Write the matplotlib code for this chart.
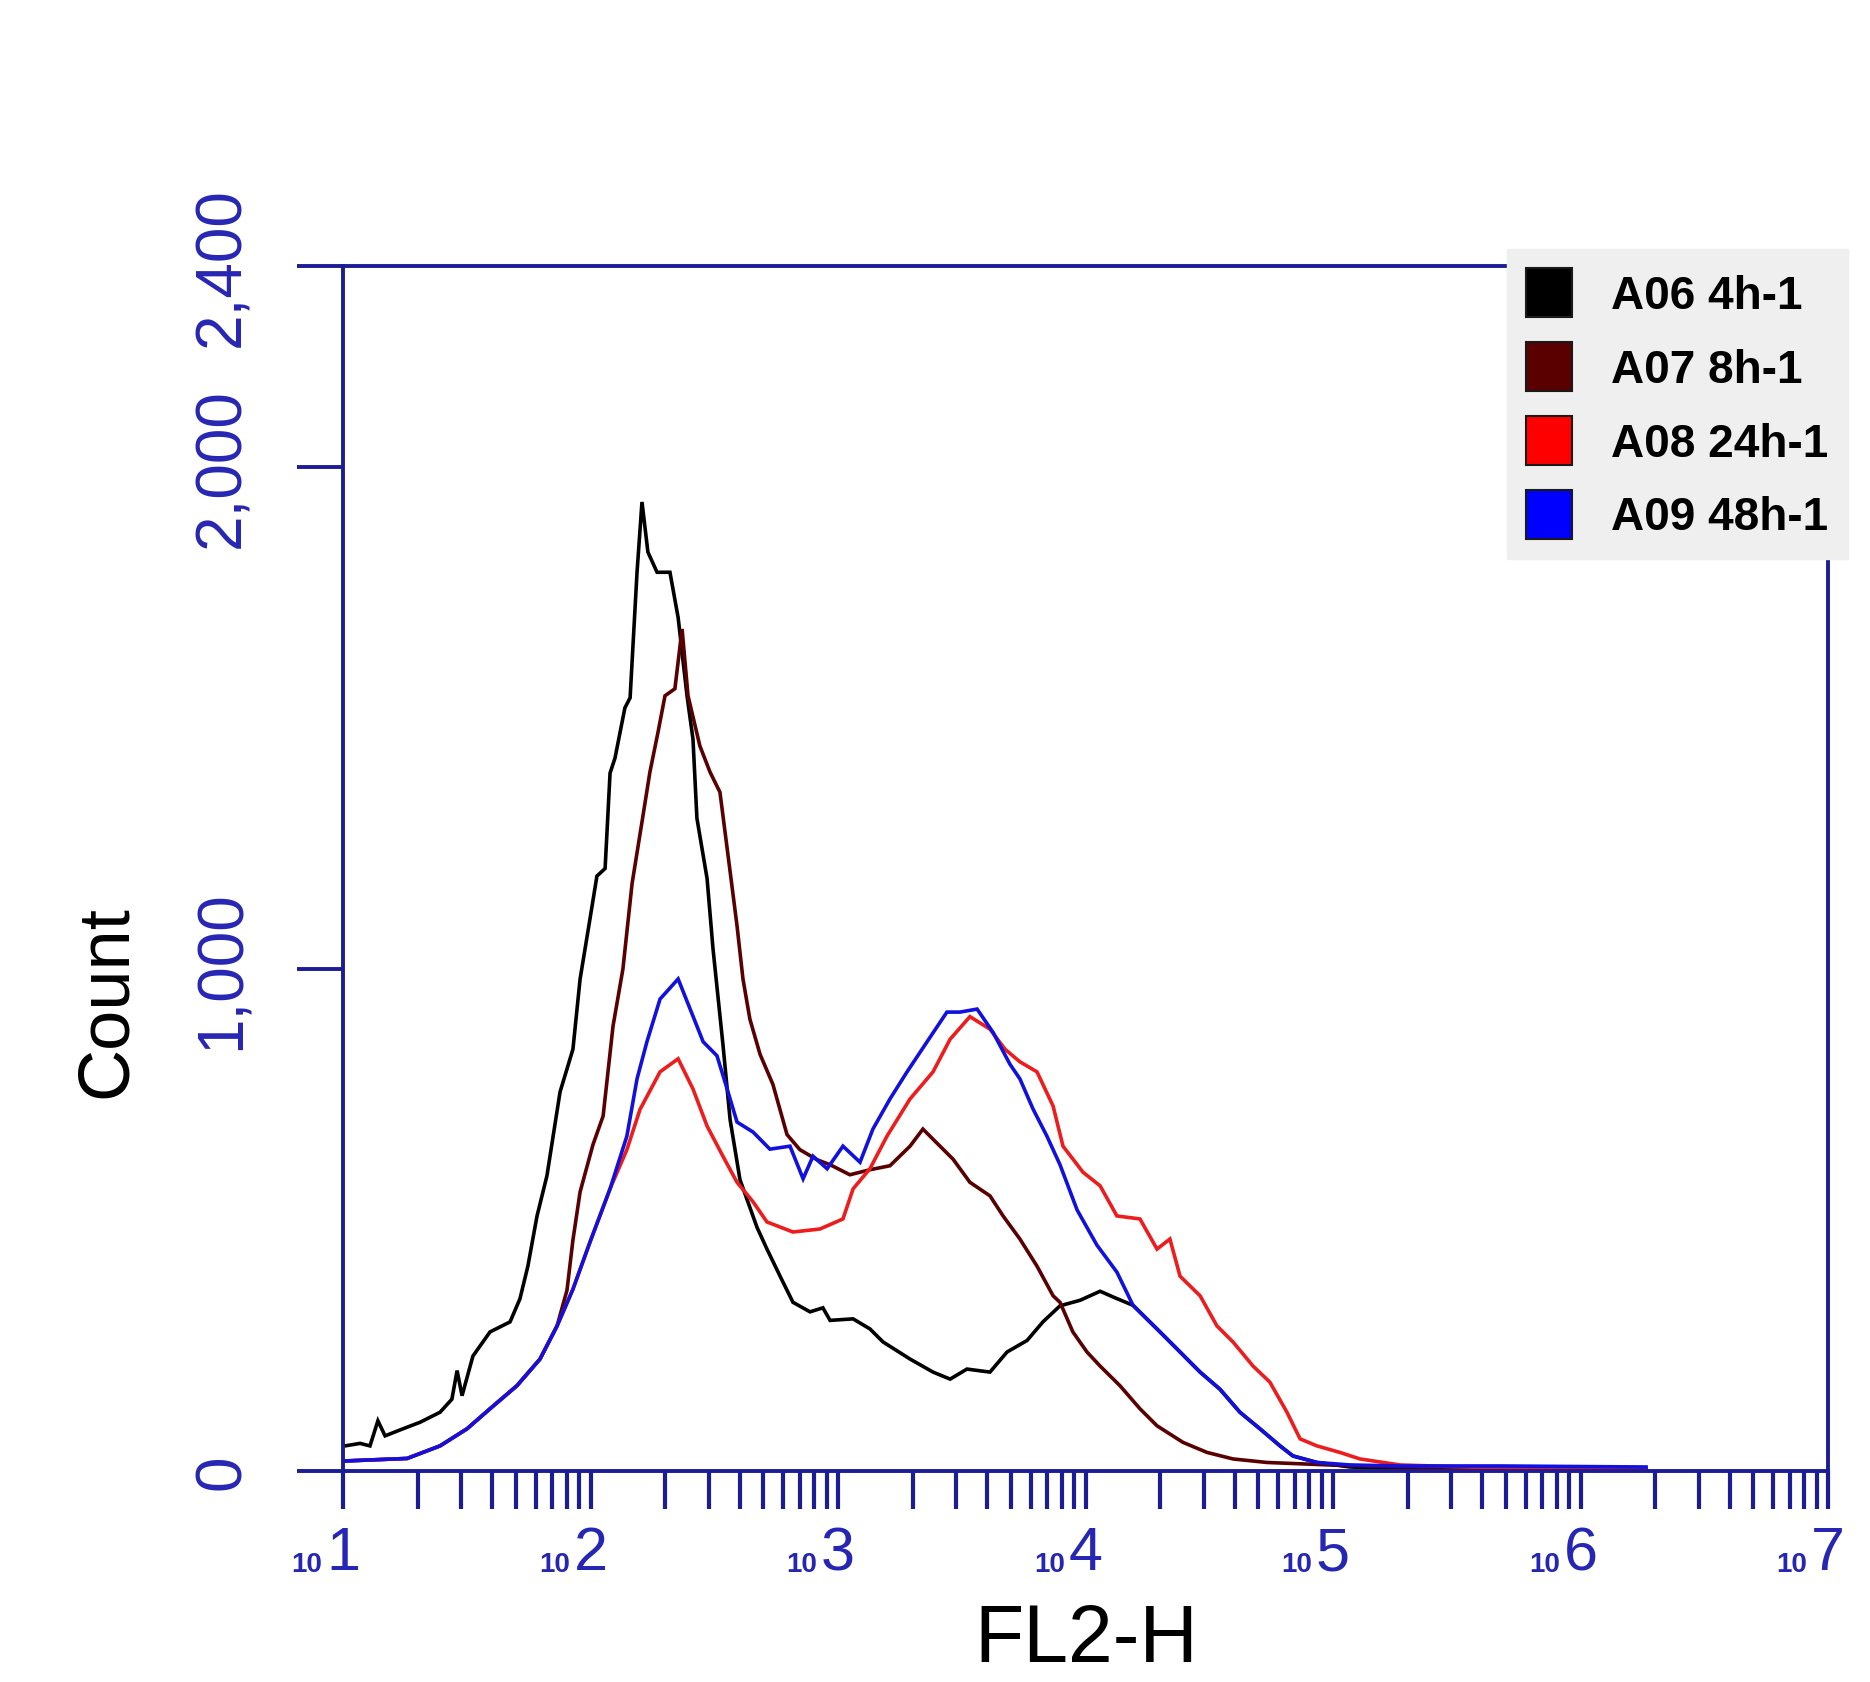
import numpy as np
import matplotlib.pyplot as plt
from matplotlib.patches import Patch
from matplotlib.ticker import LogLocator, NullFormatter

a06_log = [1.008, 1.069, 1.109, 1.141, 1.170, 1.242, 1.311, 1.392, 1.440, 1.461,
           1.481, 1.525, 1.594, 1.675, 1.715, 1.747, 1.784, 1.824, 1.877, 1.929,
           1.958, 1.998, 2.026, 2.059, 2.079, 2.099, 2.139, 2.160, 2.188, 2.208,
           2.232, 2.269, 2.321, 2.354, 2.390, 2.414, 2.430, 2.471, 2.495, 2.535,
           2.564, 2.604, 2.673, 2.713, 2.766, 2.818, 2.887, 2.939, 2.968, 3.061,
           3.129, 3.182, 3.291, 3.384, 3.453, 3.521, 3.614, 3.683, 3.764, 3.828,
           3.897, 3.978, 4.059, 4.119, 4.192, 4.301, 4.370, 4.463, 4.543, 4.624,
           4.705, 4.786, 4.838, 4.935, 5.069, 5.271, 5.675, 6.265]
a06_count = [50, 55, 50, 100, 70, 84, 97, 117, 143, 200,
             150, 229, 277, 297, 343, 408, 508, 588, 755, 840,
             980, 1100, 1185, 1200, 1390, 1420, 1520, 1540, 1790, 1930,
             1830, 1790, 1790, 1700, 1544, 1458, 1300, 1180, 1040, 850,
             700, 580, 485, 442, 388, 336, 317, 325, 300, 303,
             283, 257, 223, 197, 183, 203, 197, 237, 260, 297,
             329, 340, 358, 345, 330, 277, 243, 197, 163, 117,
             84, 50, 30, 17, 8, 5, 3, 2]

a07_log = [1.008, 1.109, 1.259, 1.392, 1.501, 1.594, 1.703, 1.796, 1.865, 1.905,
           1.929, 1.958, 2.010, 2.051, 2.091, 2.131, 2.168, 2.212, 2.240, 2.273,
           2.301, 2.341, 2.370, 2.394, 2.442, 2.483, 2.523, 2.556, 2.592, 2.616,
           2.644, 2.685, 2.737, 2.794, 2.846, 2.915, 2.968, 3.048, 3.129, 3.210,
           3.291, 3.343, 3.465, 3.533, 3.614, 3.667, 3.735, 3.804, 3.869, 3.897,
           3.949, 4.006, 4.059, 4.139, 4.220, 4.289, 4.394, 4.491, 4.596, 4.733,
           4.988, 5.271, 5.675, 6.265]
a07_count = [20, 22, 25, 50, 84, 124, 170, 223, 289, 360,
             460, 556, 650, 707, 886, 1000, 1170, 1305, 1392, 1472,
             1544, 1558, 1677, 1544, 1444, 1392, 1352, 1225, 1086, 980,
             900, 830, 770, 670, 640, 620, 610, 590, 600, 608,
             647, 681, 621, 575, 548, 508, 462, 408, 349, 336,
             277, 237, 209, 170, 124, 90, 57, 37, 24, 17,
             12, 8, 6, 4]

a08_log = [1.008, 1.109, 1.259, 1.392, 1.501, 1.594, 1.703, 1.796, 1.865, 1.929,
           1.998, 2.079, 2.147, 2.200, 2.281, 2.354, 2.414, 2.471, 2.535, 2.592,
           2.657, 2.713, 2.818, 2.927, 3.020, 3.061, 3.129, 3.198, 3.291, 3.384,
           3.453, 3.533, 3.614, 3.675, 3.735, 3.804, 3.869, 3.909, 3.990, 4.059,
           4.127, 4.220, 4.289, 4.341, 4.382, 4.463, 4.531, 4.596, 4.677, 4.745,
           4.814, 4.867, 4.935, 5.028, 5.109, 5.271, 5.675, 6.265]
a08_count = [20, 22, 25, 50, 84, 124, 170, 223, 289, 362,
             456, 562, 640, 720, 795, 821, 761, 687, 627, 575,
             536, 496, 476, 482, 502, 562, 602, 667, 741, 795,
             860, 905, 880, 840, 815, 795, 727, 647, 595, 568,
             508, 502, 442, 462, 388, 349, 289, 257, 209, 177,
             117, 64, 50, 37, 24, 12, 6, 4]

a09_log = [1.008, 1.109, 1.259, 1.392, 1.501, 1.594, 1.703, 1.796, 1.865, 1.929,
           1.998, 2.079, 2.147, 2.188, 2.228, 2.281, 2.354, 2.414, 2.455, 2.511,
           2.552, 2.592, 2.657, 2.725, 2.806, 2.859, 2.899, 2.956, 3.020, 3.089,
           3.141, 3.210, 3.279, 3.360, 3.440, 3.493, 3.562, 3.626, 3.695, 3.735,
           3.788, 3.844, 3.897, 3.966, 4.046, 4.127, 4.192, 4.301, 4.370, 4.463,
           4.543, 4.624, 4.705, 4.786, 4.838, 4.935, 5.069, 5.271, 5.675, 6.265]
a09_count = [20, 22, 25, 50, 84, 124, 170, 223, 289, 362,
             456, 562, 667, 781, 855, 940, 980, 906, 855, 827,
             761, 695, 675, 641, 647, 582, 627, 602, 647, 615,
             681, 741, 795, 855, 914, 914, 920, 874, 810, 781,
             721, 667, 610, 520, 450, 396, 330, 277, 243, 197,
             163, 117, 84, 50, 30, 17, 12, 10, 10, 8]

sample_names = ["A06 4h-1", "A07 8h-1", "A08 24h-1", "A09 48h-1"]
line_colors = ["#000000", "#5a0000", "#ee1c1c", "#1010e0"]
legend_colors = ["#000000", "#5a0000", "#ff0000", "#0000ff"]

decades = [1, 2, 3, 4, 5, 6, 7]
y_ticks = [0, 1000, 2000, 2400]
y_labels = ["0", "1,000", "2,000", "2,400"]

axis_col = "#1c1c96"
label_col = "#2626b4"
txt_font = ["Liberation Sans", "DejaVu Sans"]

W, H = 1870, 1683
fig = plt.figure(figsize=(W / 100, H / 100), dpi=100)
fig.patch.set_facecolor("white")
ax = fig.add_axes([343 / W, 1 - 1472 / H, (1828 - 343) / W, (1472 - 267) / H])

series = [(a06_log, a06_count), (a07_log, a07_count),
          (a08_log, a08_count), (a09_log, a09_count)]
for (lg, cnt), col in zip(series, line_colors):
    ax.plot(10.0 ** np.array(lg), cnt, color=col, lw=2.6, solid_joinstyle="miter")

ax.set_xscale("log")
ax.set_xlim(1e1, 1e7)
ax.set_ylim(0, 2400)

for sp in ax.spines.values():
    sp.set_color(axis_col)
    sp.set_linewidth(2.8)

# x axis: decade ticks with big exponent digit, small "10" drawn beside it
ax.set_xticks([10.0 ** d for d in decades])
ax.set_xticklabels([str(d) for d in decades])
ax.xaxis.set_minor_locator(LogLocator(base=10, subs=np.arange(2, 10)))
ax.xaxis.set_minor_formatter(NullFormatter())
ax.tick_params(axis="x", which="both", direction="out", length=27, width=3.0,
               color=axis_col, pad=12)
ax.tick_params(axis="x", which="major", labelsize=44, labelcolor=label_col)
for lab in ax.get_xticklabels():
    lab.set_family(txt_font)
for d in decades:
    ax.annotate("10", xy=(10.0 ** d, 0), xycoords=("data", "axes fraction"),
                xytext=(-15, -76), textcoords="offset points", ha="right",
                va="bottom", fontsize=20, color=label_col, family=txt_font,
                fontweight="bold", annotation_clip=False)

# y axis: rotated count labels
ax.set_yticks(y_ticks)
ax.set_yticklabels(y_labels)
ax.tick_params(axis="y", direction="out", length=33, width=2.8, color=axis_col,
               pad=32, labelsize=46, labelcolor=label_col)
for lab in ax.get_yticklabels():
    lab.set_rotation(90)
    lab.set_va("center")
    lab.set_family(txt_font)

fig.text(107 / W, 1 - 1002 / H, "Count", rotation=90, ha="center", va="center",
         fontsize=52, family=txt_font, color="black")
fig.text(1086 / W, 1 - 1641 / H, "FL2-H", ha="center", va="center",
         fontsize=58, family=txt_font, color="black")

handles = [Patch(facecolor=c, edgecolor="#1a1a1a", linewidth=1.5, label=n)
           for n, c in zip(sample_names, legend_colors)]
fig.legend(handles=handles, loc="upper left",
           bbox_to_anchor=(1507 / W, 1 - 250 / H), frameon=True, fancybox=False,
           facecolor="#efefef", edgecolor="#efefef", framealpha=1,
           prop=dict(family=txt_font, weight="bold", size=33),
           handlelength=1.0, handleheight=1.27, handletextpad=0.85,
           labelspacing=0.52, borderpad=0.42, borderaxespad=0)

fig.savefig("out.png", dpi=100, facecolor="white")
